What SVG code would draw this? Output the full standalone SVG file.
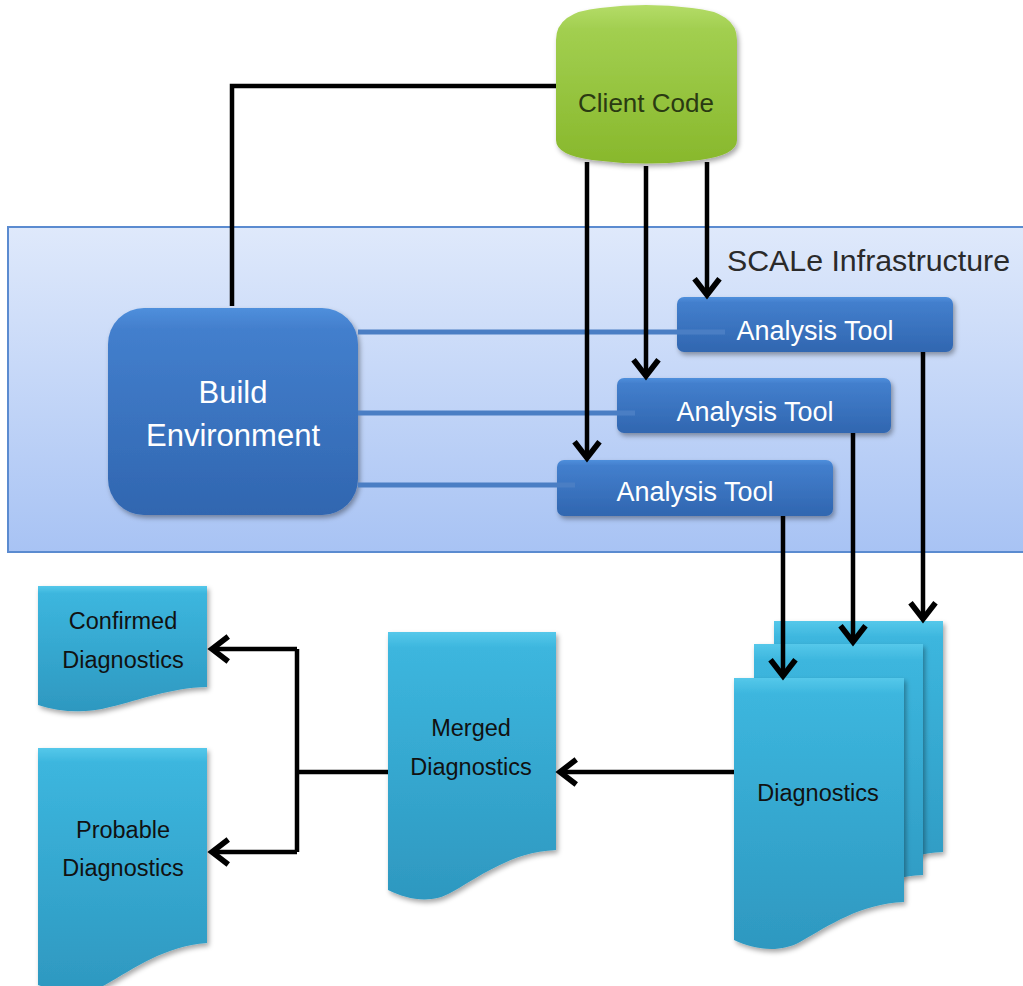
<svg xmlns="http://www.w3.org/2000/svg" width="1023" height="986" viewBox="0 0 1023 986">
<defs>
<linearGradient id="gInfra" x1="0" y1="0" x2="0" y2="1"><stop offset="0" stop-color="#dfe9fb"/><stop offset="1" stop-color="#a8c3f4"/></linearGradient>
<linearGradient id="gBlue" x1="0" y1="0" x2="0" y2="1"><stop offset="0" stop-color="#4f8fdc"/><stop offset="0.1" stop-color="#437fcd"/><stop offset="1" stop-color="#3066b0"/></linearGradient>
<linearGradient id="gGreen" x1="0" y1="0" x2="0" y2="1"><stop offset="0" stop-color="#b4dc68"/><stop offset="0.15" stop-color="#a2cf50"/><stop offset="1" stop-color="#88b82c"/></linearGradient>
<linearGradient id="gCyan" x1="0" y1="0" x2="0" y2="1"><stop offset="0" stop-color="#55c8ea"/><stop offset="0.06" stop-color="#3cb6de"/><stop offset="1" stop-color="#2e98c0"/></linearGradient>
<filter id="sh" x="-10%" y="-10%" width="130%" height="130%"><feDropShadow dx="2" dy="3" stdDeviation="2.5" flood-color="#000" flood-opacity="0.35"/></filter>
<marker id="arr" markerUnits="userSpaceOnUse" markerWidth="30" markerHeight="30" viewBox="-16 -12 20 24" refX="0" refY="0" orient="auto">
<path d="M-13,-10 L0,0 L-13,10" fill="none" stroke="#000" stroke-width="4.5" stroke-linejoin="miter"/>
</marker>
<style>
.blk{fill:none;stroke:#000;stroke-width:4.5}
.bl{fill:none;stroke:#4a7ec4;stroke-width:5}
.tw{font-family:"Liberation Sans",Arial,sans-serif;fill:#fff;text-anchor:middle}
.tk{font-family:"Liberation Sans",Arial,sans-serif;fill:#111;text-anchor:middle;font-size:23.5px}
.doc{fill:url(#gCyan);filter:url(#sh)}
.tool{fill:url(#gBlue);filter:url(#sh)}
</style>
</defs>
<rect width="1023" height="986" fill="#fff"/>
<g id="infra">
<rect x="8" y="227" width="1030" height="325" fill="url(#gInfra)" stroke="#5b8bd0" stroke-width="2"/>
<text x="727" y="271" font-family="Liberation Sans,Arial,sans-serif" font-size="30" fill="#2a2a2a" textLength="283" lengthAdjust="spacingAndGlyphs">SCALe Infrastructure</text>
</g>
<g id="client">
<path d="M556,40 Q556,12 600,8 Q646,2 692,8 Q737,12 737,40 V140 Q737,155 700,160 Q646,167 592,160 Q556,155 556,140 Z" fill="url(#gGreen)" filter="url(#sh)"/>
<text x="646" y="112" font-family="Liberation Sans,Arial,sans-serif" font-size="26" fill="#2a3a12" text-anchor="middle">Client Code</text>
</g>
<g id="build">
<rect x="108" y="308" width="250" height="207" rx="36" class="tool"/>
<text class="tw" font-size="31" x="233" y="403">Build</text>
<text class="tw" font-size="31" x="233" y="446">Environment</text>
</g>
<g id="tool1">
<rect x="677" y="297" width="276" height="55" rx="7" class="tool"/>
<text class="tw" font-size="27" x="815" y="340">Analysis Tool</text>
</g>
<g id="tool2">
<rect x="617" y="378" width="274" height="55" rx="7" class="tool"/>
<text class="tw" font-size="27" x="755" y="421">Analysis Tool</text>
</g>
<g id="tool3">
<rect x="557" y="460" width="276" height="56" rx="7" class="tool"/>
<text class="tw" font-size="27" x="695" y="501">Analysis Tool</text>
</g>
<g id="diag-back">
<path class="doc" d="M774,621 H943 V852 C900,854 870,875 840,892 C820,902 795,900 774,890 Z"/>
</g>
<g id="diag-mid">
<path class="doc" d="M754,644 H923 V875 C880,877 850,898 820,915 C800,925 775,923 754,913 Z"/>
</g>
<g id="diag-front">
<path class="doc" d="M734,678 H904 V902 C860,904 830,925 800,942 C780,953 755,950 734,940 Z"/>
<text class="tk" x="818" y="801">Diagnostics</text>
</g>
<g id="merged">
<path class="doc" d="M388,632 H556 V850 C512,852 482,875 452,892 C432,904 408,900 388,890 Z"/>
<text class="tk" x="471" y="736">Merged</text>
<text class="tk" x="471" y="775">Diagnostics</text>
</g>
<g id="confirmed">
<path class="doc" d="M38,586 H207 V687 C170,688 140,700 110,707 C85,714 60,712 38,705 Z"/>
<text class="tk" x="123" y="629">Confirmed</text>
<text class="tk" x="123" y="668">Diagnostics</text>
</g>
<g id="probable">
<path class="doc" d="M38,748 H207 V943 C165,946 135,968 105,985 C85,995 60,993 38,985 Z"/>
<text class="tk" x="123" y="838">Probable</text>
<text class="tk" x="123" y="876">Diagnostics</text>
</g>
<g id="connectors">
<path class="bl" d="M358,332 H725"/>
<path class="bl" d="M358,413 H635"/>
<path class="bl" d="M358,485 H575"/>
<path class="blk" d="M556,86 H232 V306"/>
<path class="blk" d="M587,162 V458" marker-end="url(#arr)"/>
<path class="blk" d="M646,166 V376" marker-end="url(#arr)"/>
<path class="blk" d="M707,162 V295" marker-end="url(#arr)"/>
<path class="blk" d="M923,352 V619" marker-end="url(#arr)"/>
<path class="blk" d="M853,433 V642" marker-end="url(#arr)"/>
<path class="blk" d="M783,516 V676" marker-end="url(#arr)"/>
<path class="blk" d="M734,772 H560" marker-end="url(#arr)"/>
<path class="blk" d="M388,772 H297"/>
<path class="blk" d="M297,649 V852"/>
<path class="blk" d="M297,649 H212" marker-end="url(#arr)"/>
<path class="blk" d="M297,852 H212" marker-end="url(#arr)"/>
</g>
</svg>
